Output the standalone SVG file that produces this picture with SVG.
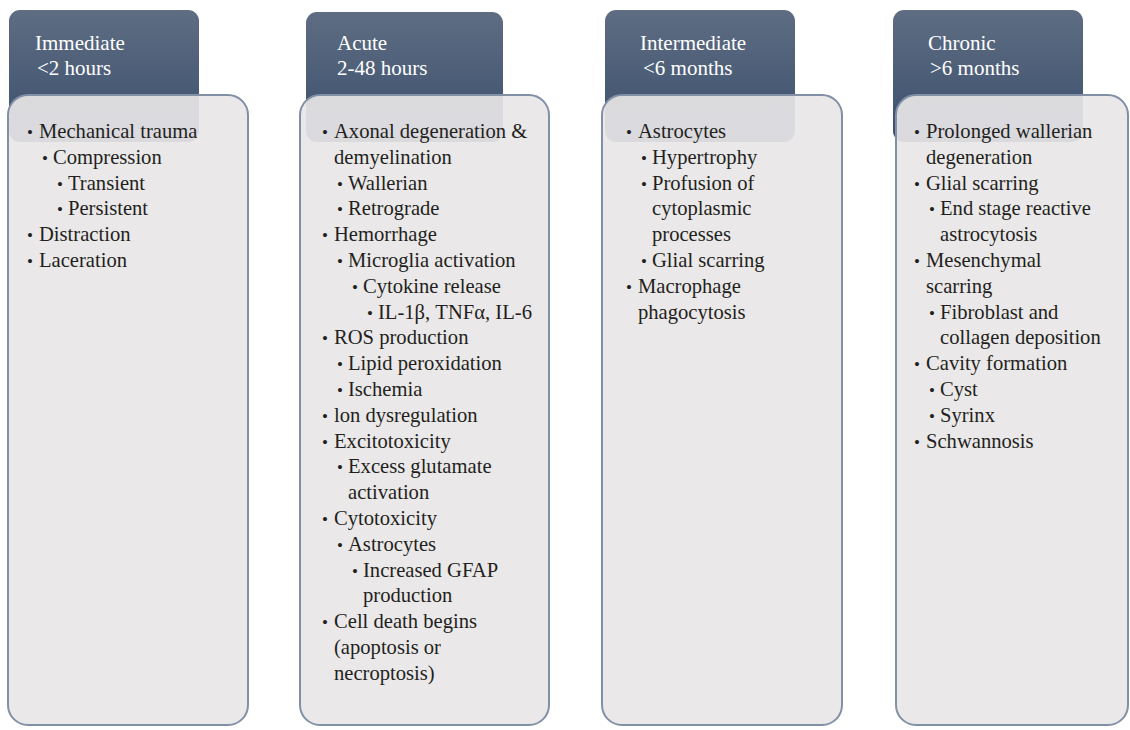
<svg xmlns="http://www.w3.org/2000/svg" width="1130" height="730" viewBox="0 0 1130 730">
<defs>
<linearGradient id="hdr" x1="0" y1="0" x2="0" y2="1">
<stop offset="0" stop-color="#5e6d82"/>
<stop offset="1" stop-color="#3b4e6d"/>
</linearGradient>
<style>
.hdr{fill:url(#hdr);}
.box{fill:#e8e6e7;fill-opacity:0.92;stroke:#8190a4;stroke-width:2;}
.ht{font-family:"Liberation Serif",serif;font-size:21px;fill:#ffffff;}
.t{font-family:"Liberation Serif",serif;font-size:20.6px;fill:#231f20;}
.b{font-family:"Liberation Serif",serif;font-size:17px;fill:#231f20;}
</style>
</defs>
<rect width="1130" height="730" fill="#ffffff"/>

<g id="immediate">
<rect class="hdr" x="9" y="10" width="190" height="132" rx="11"/>
<text class="ht" x="35" y="50">Immediate</text>
<text class="ht" x="37" y="75">&lt;2 hours</text>
<rect class="box" x="8" y="95" width="240" height="630" rx="20"/>
<text class="b" x="27" y="138">•</text><text class="t" x="39" y="138">Mechanical trauma</text>
<text class="b" x="42" y="163.8">•</text><text class="t" x="53" y="163.8">Compression</text>
<text class="b" x="57" y="189.6">•</text><text class="t" x="68" y="189.6">Transient</text>
<text class="b" x="57" y="215.4">•</text><text class="t" x="68" y="215.4">Persistent</text>
<text class="b" x="27" y="241.2">•</text><text class="t" x="39" y="241.2">Distraction</text>
<text class="b" x="27" y="267">•</text><text class="t" x="39" y="267">Laceration</text>
</g>

<g id="acute">
<rect class="hdr" x="306" y="12" width="197" height="130" rx="11"/>
<text class="ht" x="337" y="50">Acute</text>
<text class="ht" x="337" y="75">2-48 hours</text>
<rect class="box" x="300" y="95" width="249" height="630" rx="20"/>
<text class="b" x="322" y="138">•</text><text class="t" x="334" y="138">Axonal degeneration &amp;</text>
<text class="t" x="334" y="163.8">demyelination</text>
<text class="b" x="337" y="189.6">•</text><text class="t" x="348" y="189.6">Wallerian</text>
<text class="b" x="337" y="215.4">•</text><text class="t" x="348" y="215.4">Retrograde</text>
<text class="b" x="322" y="241.2">•</text><text class="t" x="334" y="241.2">Hemorrhage</text>
<text class="b" x="337" y="267">•</text><text class="t" x="348" y="267">Microglia activation</text>
<text class="b" x="352" y="292.8">•</text><text class="t" x="363" y="292.8">Cytokine release</text>
<text class="b" x="367" y="318.6">•</text><text class="t" x="378" y="318.6">IL-1β, TNFα, IL-6</text>
<text class="b" x="322" y="344.4">•</text><text class="t" x="334" y="344.4">ROS production</text>
<text class="b" x="337" y="370.2">•</text><text class="t" x="348" y="370.2">Lipid peroxidation</text>
<text class="b" x="337" y="396">•</text><text class="t" x="348" y="396">Ischemia</text>
<text class="b" x="322" y="421.8">•</text><text class="t" x="334" y="421.8">lon dysregulation</text>
<text class="b" x="322" y="447.6">•</text><text class="t" x="334" y="447.6">Excitotoxicity</text>
<text class="b" x="337" y="473.4">•</text><text class="t" x="348" y="473.4">Excess glutamate</text>
<text class="t" x="348" y="499.2">activation</text>
<text class="b" x="322" y="525">•</text><text class="t" x="334" y="525">Cytotoxicity</text>
<text class="b" x="337" y="550.8">•</text><text class="t" x="348" y="550.8">Astrocytes</text>
<text class="b" x="352" y="576.6">•</text><text class="t" x="363" y="576.6">Increased GFAP</text>
<text class="t" x="363" y="602.4">production</text>
<text class="b" x="322" y="628.2">•</text><text class="t" x="334" y="628.2">Cell death begins</text>
<text class="t" x="334" y="654">(apoptosis or</text>
<text class="t" x="334" y="679.8">necroptosis)</text>
</g>

<g id="intermediate">
<rect class="hdr" x="605" y="10" width="190" height="132" rx="11"/>
<text class="ht" x="640" y="50">Intermediate</text>
<text class="ht" x="643" y="75">&lt;6 months</text>
<rect class="box" x="602" y="95" width="240" height="630" rx="20"/>
<text class="b" x="626" y="138">•</text><text class="t" x="638" y="138">Astrocytes</text>
<text class="b" x="641" y="163.8">•</text><text class="t" x="652" y="163.8">Hypertrophy</text>
<text class="b" x="641" y="189.6">•</text><text class="t" x="652" y="189.6">Profusion of</text>
<text class="t" x="652" y="215.4">cytoplasmic</text>
<text class="t" x="652" y="241.2">processes</text>
<text class="b" x="641" y="267">•</text><text class="t" x="652" y="267">Glial scarring</text>
<text class="b" x="626" y="292.8">•</text><text class="t" x="638" y="292.8">Macrophage</text>
<text class="t" x="638" y="318.6">phagocytosis</text>
</g>

<g id="chronic">
<rect class="hdr" x="893" y="10" width="190" height="132" rx="11"/>
<text class="ht" x="928" y="50">Chronic</text>
<text class="ht" x="930" y="75">&gt;6 months</text>
<rect class="box" x="896" y="95" width="232" height="630" rx="20"/>
<text class="b" x="914" y="138">•</text><text class="t" x="926" y="138">Prolonged wallerian</text>
<text class="t" x="926" y="163.8">degeneration</text>
<text class="b" x="914" y="189.6">•</text><text class="t" x="926" y="189.6">Glial scarring</text>
<text class="b" x="929" y="215.4">•</text><text class="t" x="940" y="215.4">End stage reactive</text>
<text class="t" x="940" y="241.2">astrocytosis</text>
<text class="b" x="914" y="267">•</text><text class="t" x="926" y="267">Mesenchymal</text>
<text class="t" x="926" y="292.8">scarring</text>
<text class="b" x="929" y="318.6">•</text><text class="t" x="940" y="318.6">Fibroblast and</text>
<text class="t" x="940" y="344.4">collagen deposition</text>
<text class="b" x="914" y="370.2">•</text><text class="t" x="926" y="370.2">Cavity formation</text>
<text class="b" x="929" y="396">•</text><text class="t" x="940" y="396">Cyst</text>
<text class="b" x="929" y="421.8">•</text><text class="t" x="940" y="421.8">Syrinx</text>
<text class="b" x="914" y="447.6">•</text><text class="t" x="926" y="447.6">Schwannosis</text>
</g>
</svg>
